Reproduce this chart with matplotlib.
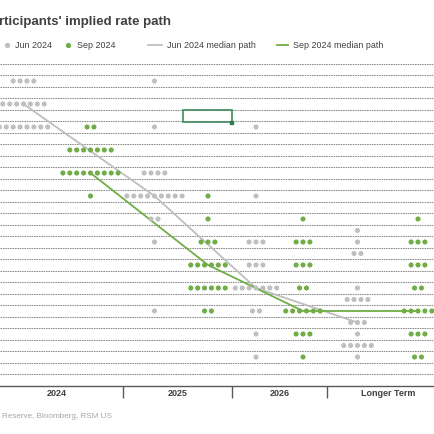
import matplotlib
matplotlib.use('Agg')
import matplotlib.pyplot as plt
from matplotlib.lines import Line2D
from matplotlib.patches import Rectangle
import numpy as np

plt.rcParams['font.family'] = ['Liberation Sans', 'DejaVu Sans']

# --- data: (rate, number of participants) per year ---
categories = ["2024", "2025", "2026", "Longer Term"]

jun_2024 = [(5.375, 4), (5.125, 7), (4.875, 8)]
jun_2025 = [(5.375, 1), (4.875, 1), (4.375, 4), (4.125, 9), (3.875, 2), (3.625, 1), (2.875, 1)]
jun_2026 = [(4.875, 1), (4.125, 1), (3.625, 3), (3.375, 3), (3.125, 7), (2.875, 2), (2.625, 1), (2.375, 1)]
jun_lr = [(3.75, 1), (3.625, 1), (3.5, 2), (3.125, 1), (3.0, 4), (2.75, 3), (2.625, 1), (2.5, 5), (2.375, 1)]

sep_2024 = [(4.875, 2), (4.625, 7), (4.375, 9), (4.125, 1)]
sep_2025 = [(4.125, 1), (3.875, 1), (3.625, 3), (3.375, 6), (3.125, 6), (2.875, 2)]
sep_2026 = [(3.875, 1), (3.625, 3), (3.375, 3), (3.125, 2), (2.875, 6), (2.625, 3), (2.375, 1)]
sep_lr = [(3.875, 1), (3.625, 3), (3.375, 3), (3.125, 2), (2.875, 5), (2.625, 3), (2.375, 2)]

jun_median = [5.125, 4.125, 3.125, 2.75]
sep_median = [4.375, 3.375, 2.875, 2.875]

# --- layout (x axis runs in pixels of the 435 px canvas) ---
W = 435
jun_x = [23.5, 154.5, 256, 357.5]
sep_x = [90.5, 208, 303, 418]
bounds = [123.3, 232, 327]
label_x = [57, 178, 279.5, 388]
dot_gap = 6.9

GRAY = '#bfbfbf'
GREEN = '#70ad47'
TEXT = '#404040'

fig = plt.figure(figsize=(4.35, 4.35), dpi=100)
ax = fig.add_axes([0, 1 - 386.75 / W, 1, (386.75 - 64.75) / W])
ax.set_xlim(0, W)
ax.set_ylim(2.0625, 5.5625)

# dashed horizontal gridlines
for g in np.arange(2.1875, 5.57, 0.125):
    ax.axhline(g, color='#8c8c8c', lw=0.75, ls=(0, (1.5, 0.8)), zorder=1)

# median paths
ax.plot(jun_x, jun_median, color=GRAY, lw=1.3, zorder=2)
ax.plot(sep_x, sep_median, color=GREEN, lw=1.3, zorder=2)


def draw_dots(groups, cx, color):
    xs, ys = [], []
    for rate, n in groups:
        offs = (np.arange(n) - (n - 1) / 2) * dot_gap
        xs.extend(cx + offs)
        ys.extend([rate] * n)
    ax.scatter(xs, ys, s=13.5, color=color, edgecolors='none', zorder=3)


for groups, cx in zip([jun_2024, jun_2025, jun_2026, jun_lr], jun_x):
    draw_dots(groups, cx, GRAY)
for groups, cx in zip([sep_2024, sep_2025, sep_2026, sep_lr], sep_x):
    draw_dots(groups, cx, GREEN)

# axes styling
for side in ['top', 'right', 'left']:
    ax.spines[side].set_visible(False)
ax.spines['bottom'].set_color('#595959')
ax.spines['bottom'].set_linewidth(1.0)
ax.set_yticks([])
ax.set_xticks(bounds)
ax.set_xticklabels([])
ax.tick_params(axis='x', which='major', length=8.5, width=1.0, color='#595959', direction='out')
ax.set_xticks(label_x, minor=True)
ax.set_xticklabels(categories, minor=True, fontsize=6.5, fontweight='bold', color=TEXT)
ax.tick_params(axis='x', which='minor', length=0, pad=1.5)

# title, legend and source
fig.text(-0.6 / W, 1 - 22.5 / W, "rticipants' implied rate path", fontsize=9.5,
         fontweight='bold', color=TEXT, va='center', ha='left')

ly = 1 - 46 / W
fig.add_artist(Line2D([7 / W], [ly], marker='o', ms=3.8, color=GRAY, mec='none', ls='none'))
fig.text(15 / W, ly, "Jun 2024", fontsize=6.4, color=TEXT, va='center')
fig.add_artist(Line2D([68 / W], [ly], marker='o', ms=3.8, color=GREEN, mec='none', ls='none'))
fig.text(77 / W, ly, "Sep 2024", fontsize=6.4, color=TEXT, va='center')
fig.add_artist(Line2D([148 / W, 162 / W], [ly, ly], color=GRAY, lw=1.3))
fig.text(167 / W, ly, "Jun 2024 median path", fontsize=6.4, color=TEXT, va='center')
fig.add_artist(Line2D([277 / W, 288 / W], [ly, ly], color=GREEN, lw=1.3))
fig.text(293 / W, ly, "Sep 2024 median path", fontsize=6.4, color=TEXT, va='center')

fig.text(2.5 / W, 1 - 416.7 / W, "Reserve, Bloomberg, RSM US", fontsize=5.9,
         color='#a6a6a6', va='center', ha='left')

# stray cell-selection box visible in the source
fig.add_artist(Rectangle((183.5 / W, 1 - 123 / W), 48.5 / W, 12.5 / W,
                         transform=fig.transFigure, fill=False, ec='#3f8a5c', lw=1.2))
fig.add_artist(Rectangle((230.5 / W, 1 - 124.5 / W), 3 / W, 3 / W,
                         transform=fig.transFigure, color='#2e7a4b'))

fig.savefig('out.png', dpi=100)
